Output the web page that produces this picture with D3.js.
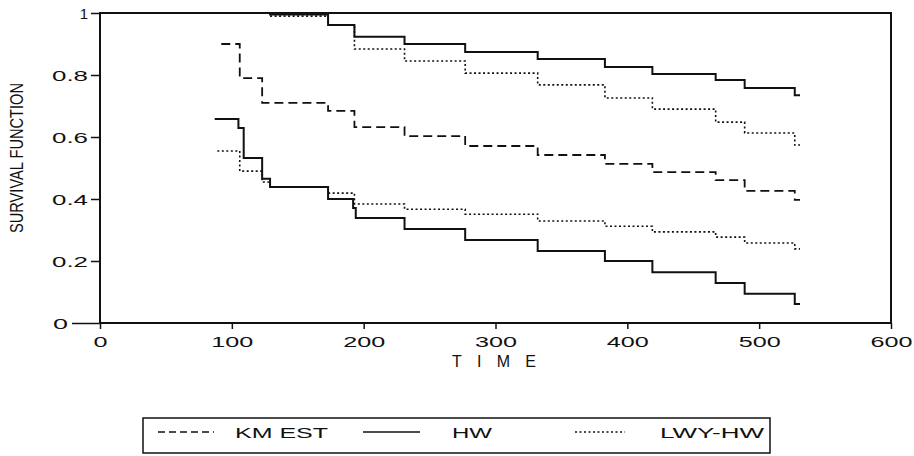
<!DOCTYPE html>
<html>
<head>
<meta charset="utf-8">
<script src="https://cdn.jsdelivr.net/npm/d3@7"></script>
<style>
  body { margin: 0; background: #fff; }
  svg { display: block; }
  text { font-family: "Liberation Sans", Arial, sans-serif; fill: #111; }
</style>
</head>
<body>
<svg id="chart"></svg>
<script>
// survival curves (time, value)
const kmTime   = [92, 106, 123, 173, 193, 231, 277, 332, 383, 419, 467, 489, 527, 531];
const kmValue  = [0.9, 0.79, 0.71, 0.684, 0.632, 0.603, 0.571, 0.542, 0.513, 0.487, 0.461, 0.426, 0.397, 0.397];

const hwUpTime  = [87, 129, 173, 193, 231, 277, 332, 383, 419, 467, 489, 527, 531];
const hwUpValue = [1.0, 0.995, 0.961, 0.923, 0.9, 0.874, 0.852, 0.826, 0.803, 0.784, 0.758, 0.735, 0.735];

const hwLoTime  = [87, 105, 109, 123, 129, 173, 192, 194, 231, 277, 332, 383, 419, 467, 489, 527, 531];
const hwLoValue = [0.658, 0.629, 0.532, 0.465, 0.439, 0.4, 0.371, 0.339, 0.303, 0.268, 0.232, 0.2, 0.164, 0.129, 0.094, 0.061, 0.061];

const lwyUpTime  = [87, 129, 173, 193, 231, 277, 332, 383, 419, 467, 489, 527, 531];
const lwyUpValue = [1.0, 0.99, 0.961, 0.884, 0.845, 0.806, 0.768, 0.726, 0.69, 0.648, 0.613, 0.574, 0.574];

const lwyLoTime  = [89, 106, 123, 129, 173, 193, 231, 277, 332, 383, 419, 467, 489, 527, 531];
const lwyLoValue = [0.555, 0.49, 0.455, 0.439, 0.419, 0.384, 0.367, 0.351, 0.329, 0.312, 0.294, 0.277, 0.258, 0.239, 0.239];

const xTicks = [0, 100, 200, 300, 400, 500, 600];
const yTicks = [0, 0.2, 0.4, 0.6, 0.8, 1];
const legendLabels = ["KM EST", "HW", "LWY-HW"];

const svg = d3.select("#chart").attr("width", 914).attr("height", 456);

const margin = { top: 13, left: 100 },
    width = 791,
    height = 310;

const x = d3.scaleLinear().domain([0, 600]).range([margin.left, margin.left + width]);
const y = d3.scaleLinear().domain([0, 1]).range([margin.top + height, margin.top]);

const styles = {
    dashed: { dash: "9,5", w: 1.8 },
    solid:  { dash: null, w: 2 },
    dotted: { dash: "2,2.5", w: 1.6 }
};

const series = [
    { t: kmTime, v: kmValue, s: "dashed" },
    { t: hwUpTime, v: hwUpValue, s: "solid" },
    { t: hwLoTime, v: hwLoValue, s: "solid" },
    { t: lwyUpTime, v: lwyUpValue, s: "dotted" },
    { t: lwyLoTime, v: lwyLoValue, s: "dotted" }
];

const line = d3.line()
    .x(d => x(d[0]))
    .y(d => y(d[1]))
    .curve(d3.curveStepAfter);

svg.append("g")
    .selectAll("path")
    .data(series)
    .enter().append("path")
    .attr("d", d => line(d.t.map((t, i) => [t, d.v[i]])))
    .attr("fill", "none")
    .attr("stroke", "#111")
    .attr("stroke-width", d => styles[d.s].w)
    .attr("stroke-dasharray", d => styles[d.s].dash);

// frame
svg.append("rect")
    .attr("x", x(0)).attr("y", y(1))
    .attr("width", width).attr("height", height)
    .attr("fill", "none")
    .attr("stroke", "#111")
    .attr("stroke-width", 2);

// x axis
const xAxis = svg.append("g")
    .attr("transform", `translate(0,${y(0)})`)
    .call(d3.axisBottom(x).tickValues(xTicks).tickSize(6).tickSizeOuter(0));
xAxis.select(".domain").remove();
xAxis.selectAll("line").attr("stroke", "#111").attr("stroke-width", 1.5);
xAxis.selectAll("text")
    .attr("y", 10).attr("dy", "0.95em")
    .style("font-size", "15px")
    .attr("textLength", d => String(d).length * 14)
    .attr("lengthAdjust", "spacingAndGlyphs");

// y axis
const yAxis = svg.append("g")
    .attr("transform", `translate(${x(0)},0)`)
    .call(d3.axisLeft(y).tickValues(yTicks).tickSize(9).tickSizeOuter(0)
        .tickFormat(d => d === 0 || d === 1 ? String(d) : d.toFixed(1)));
yAxis.select(".domain").remove();
yAxis.selectAll("line")
    .attr("stroke", "#111").attr("stroke-width", 1.5)
    .attr("x2", d => d === 0 ? -28 : -9);
yAxis.selectAll("text")
    .attr("x", d => d === 0 ? -32 : -12)
    .attr("dy", "0.36em")
    .style("font-size", "15px")
    .attr("textLength", d => d === 0 ? 15 : (d === 1 ? null : 36))
    .attr("lengthAdjust", "spacingAndGlyphs");

// axis titles
svg.append("text")
    .attr("x", 494).attr("y", 367)
    .attr("text-anchor", "middle")
    .style("font-size", "16px")
    .attr("textLength", 84)
    .attr("lengthAdjust", "spacing")
    .text("TIME");

svg.append("text")
    .attr("transform", "translate(23,158) rotate(-90)")
    .attr("text-anchor", "middle")
    .style("font-size", "19px")
    .attr("textLength", 150)
    .attr("lengthAdjust", "spacingAndGlyphs")
    .text("SURVIVAL FUNCTION");

// legend
const legend = svg.append("g");
legend.append("rect")
    .attr("x", 143).attr("y", 418)
    .attr("width", 627).attr("height", 35)
    .attr("fill", "none")
    .attr("stroke", "#111")
    .attr("stroke-width", 1.5);

const legendItems = [
    { s: "dashed", x1: 158, x2: 214, tx: 235, tw: 93 },
    { s: "solid",  x1: 363, x2: 420, tx: 452, tw: 40 },
    { s: "dotted", x1: 575, x2: 625, tx: 660, tw: 104 }
];

legendItems.forEach((d, i) => {
    legend.append("line")
        .attr("x1", d.x1).attr("x2", d.x2)
        .attr("y1", 432).attr("y2", 432)
        .attr("stroke", "#111")
        .attr("stroke-width", styles[d.s].w * 0.8)
        .attr("stroke-dasharray", d.s === "dashed" ? "7,4" : styles[d.s].dash);
    legend.append("text")
        .attr("x", d.tx).attr("y", 438)
        .style("font-size", "14px")
        .attr("textLength", d.tw)
        .attr("lengthAdjust", "spacingAndGlyphs")
        .text(legendLabels[i]);
});
</script>
</body>
</html>
